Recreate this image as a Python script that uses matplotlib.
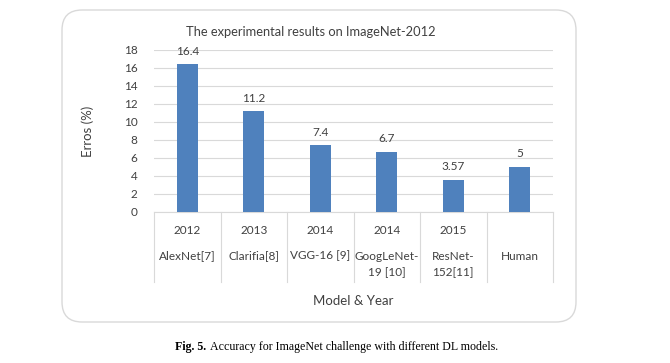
import matplotlib
matplotlib.use("Agg")
import matplotlib.pyplot as plt
from matplotlib.patches import FancyBboxPatch
from matplotlib.lines import Line2D

years = ["2012", "2013", "2014", "2014", "2015", ""]
models = ["AlexNet[7]", "Clarifia[8]", "VGG-16 [9]", "GoogLeNet-\n19 [10]", "ResNet-\n152[11]", "Human"]
errors = [16.4, 11.2, 7.4, 6.7, 3.57, 5]
value_labels = ["16.4", "11.2", "7.4", "6.7", "3.57", "5"]
yticks = [0, 2, 4, 6, 8, 10, 12, 14, 16, 18]

plt.rcParams['font.family'] = ['Lato', 'DejaVu Sans']
txt = '#404040'
grey = '#d9d9d9'

fig = plt.figure(figsize=(6.7, 3.63), dpi=100)
W, H = 670, 363

# outer rounded frame
box = FancyBboxPatch((62 / W, 1 - 322 / H), (576 - 62) / W, (322 - 10) / H,
                     boxstyle="round,pad=0,rounding_size=0.03", transform=fig.transFigure,
                     facecolor='white', edgecolor=grey, linewidth=1.0, mutation_aspect=W / H,
                     zorder=-10)
fig.patches.append(box)

ax = fig.add_axes([154 / W, 1 - 212 / H, (553 - 154) / W, (212 - 50) / H])
ax.patch.set_visible(False)
x = list(range(len(errors)))
ax.bar(x, errors, width=0.32, color='#4F81BD', zorder=3)
ax.set_xlim(-0.5, len(errors) - 0.5)
ax.set_ylim(0, 18)
ax.set_yticks(yticks)
ax.set_yticklabels([str(t) for t in yticks], fontsize=8.5, color=txt)
ax.tick_params(axis='y', length=0, pad=12)
ax.tick_params(axis='x', length=0)
ax.set_xticks([])
ax.yaxis.grid(True, color=grey, linewidth=0.8, zorder=0)
for s in ['top', 'right', 'left']:
    ax.spines[s].set_visible(False)
ax.spines['bottom'].set_color(grey)
ax.spines['bottom'].set_linewidth(0.8)

for xi, v, lab in zip(x, errors, value_labels):
    ax.annotate(lab, (xi, v), xytext=(0, 5.5), textcoords='offset points',
                ha='center', va='bottom', fontsize=8.5, color=txt)

# category dividers below axis
trans = ax.get_xaxis_transform()
ph = 212 - 50
div_bottom = -(282 - 212) / ph
for b in [i - 0.5 for i in range(len(errors) + 1)]:
    ax.add_line(Line2D([b, b], [0, div_bottom], transform=trans, color=grey,
                       linewidth=0.8, clip_on=False))

y_year = -(230 - 212) / ph
y_model = -(256 - 212) / ph
y_model2 = -(273 - 212) / ph
for xi, yr, m in zip(x, years, models):
    ax.text(xi, y_year, yr, transform=trans, ha='center', va='center', fontsize=8.5, color=txt)
    parts = m.split('\n')
    for part, yy in zip(parts, [y_model, y_model2]):
        ax.text(xi, yy, part, transform=trans, ha='center', va='center',
                fontsize=8.5, color=txt)

fig.text((154 + 553) / 2 / W, 1 - 301 / H, "Model & Year", ha='center', va='center',
         fontsize=9.5, color=txt)
fig.text(88 / W, 1 - 131 / H, "Erros (%)", ha='center', va='center', rotation=90,
         fontsize=9.5, color=txt)
fig.text(311 / W, 1 - 32 / H, "The experimental results on ImageNet-2012", ha='center',
         va='center', fontsize=9.3, color=txt)

# caption
t1 = fig.text(175 / W, 1 - 347 / H, "Fig. 5.", ha='left', va='center', fontsize=8.6,
              family='Liberation Serif', weight='bold', color='black')
ax.annotate("Accuracy for ImageNet challenge with different DL models.",
            xy=(1, 0.5), xycoords=t1, xytext=(2.5, 0), textcoords='offset points',
            ha='left', va='center', fontsize=8.6, family='Liberation Serif', color='black',
            annotation_clip=False)

fig.savefig("out.png", dpi=100, facecolor='white')
